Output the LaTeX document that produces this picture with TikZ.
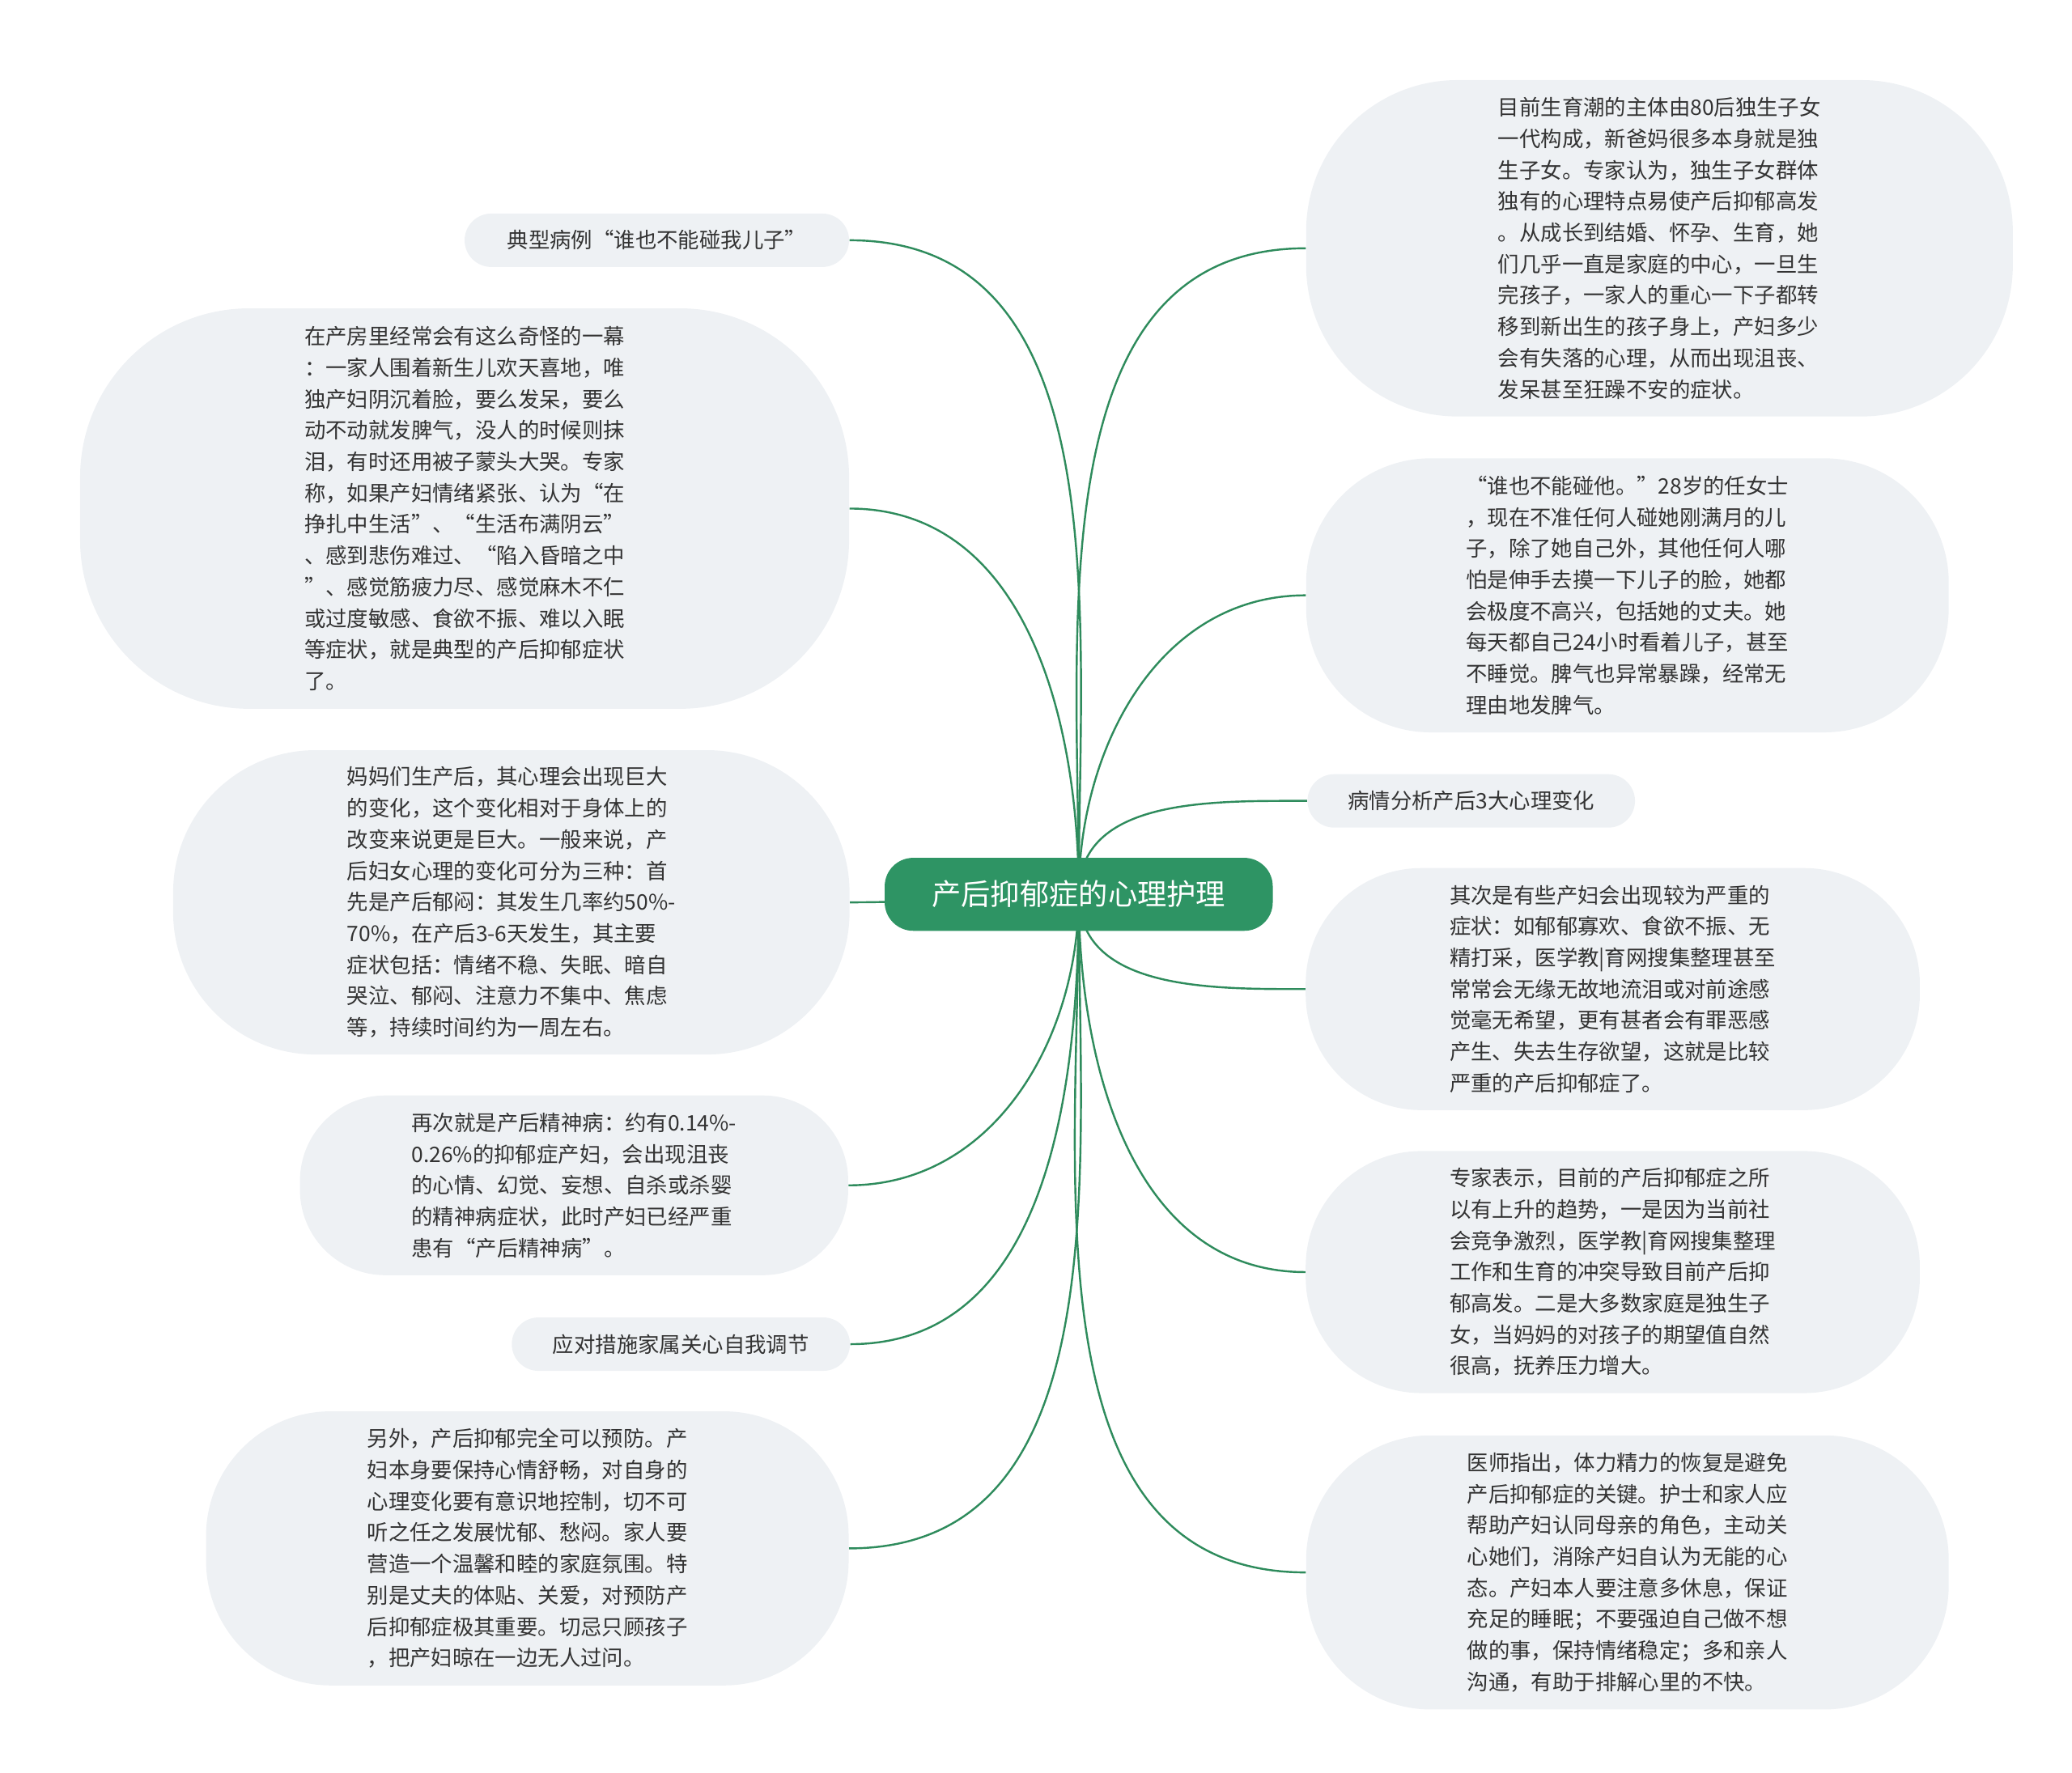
\documentclass[tikz,border=0pt]{standalone}
\usepackage{fontspec}
\setmainfont{Noto Sans CJK SC}
\usetikzlibrary{backgrounds}
\definecolor{leaffill}{HTML}{EEF1F4}
\definecolor{linkgreen}{HTML}{2E8B5C}
\definecolor{rootgreen}{HTML}{2E9464}
\tikzset{>=latex}
\begin{document}
\begin{tikzpicture}[x=0.75pt,y=-0.75pt,
    leaf/.style={fill=leaffill,rounded corners=70pt,align=left,font=\fontsize{12}{17.6}\selectfont,text=black!80,inner sep=0},
    pill/.style={fill=leaffill,rounded corners=15pt,font=\fontsize{12}{17.6}\selectfont,text=black!80,minimum height=30pt,inner sep=0},
    root/.style={fill=rootgreen,rounded corners=16pt,text=white,font=\fontsize{16.5}{20}\selectfont,minimum width=218pt,minimum height=41pt},
    link/.style={draw=linkgreen,line width=1.1pt}
  ]
\useasboundingbox (0,0) rectangle (1552,1328);
\node[root] (root) at (808,670) {产后抑郁症的心理护理};
% right side
\node[leaf,minimum width=397pt,minimum height=189pt,rounded corners=85pt] (r1) at (1243,186) {目前生育潮的主体由80后独生子女\\一代构成，新爸妈很多本身就是独\\生子女。专家认为，独生子女群体\\独有的心理特点易使产后抑郁高发\\。从成长到结婚、怀孕、生育，她\\们几乎一直是家庭的中心，一旦生\\完孩子，一家人的重心一下子都转\\移到新出生的孩子身上，产妇多少\\会有失落的心理，从而出现沮丧、\\发呆甚至狂躁不安的症状。};
\node[leaf,minimum width=361pt,minimum height=154pt] (r2) at (1219,446) {“谁也不能碰他。”28岁的任女士\\，现在不准任何人碰她刚满月的儿\\子，除了她自己外，其他任何人哪\\怕是伸手去摸一下儿子的脸，她都\\会极度不高兴，包括她的丈夫。她\\每天都自己24小时看着儿子，甚至\\不睡觉。脾气也异常暴躁，经常无\\理由地发脾气。};
\node[pill,minimum width=184pt] (r3) at (1102,600) {病情分析产后3大心理变化};
\node[leaf,minimum width=345pt,minimum height=136pt,rounded corners=65pt] (r4) at (1208,741) {其次是有些产妇会出现较为严重的\\症状：如郁郁寡欢、食欲不振、无\\精打采，医学教|育网搜集整理甚至\\常常会无缘无故地流泪或对前途感\\觉毫无希望，更有甚者会有罪恶感\\产生、失去生存欲望，这就是比较\\严重的产后抑郁症了。};
\node[leaf,minimum width=345pt,minimum height=136pt,rounded corners=65pt] (r5) at (1208,953) {专家表示，目前的产后抑郁症之所\\以有上升的趋势，一是因为当前社\\会竞争激烈，医学教|育网搜集整理\\工作和生育的冲突导致目前产后抑\\郁高发。二是大多数家庭是独生子\\女，当妈妈的对孩子的期望值自然\\很高，抚养压力增大。};
\node[leaf,minimum width=361pt,minimum height=154pt] (r6) at (1219,1178) {医师指出，体力精力的恢复是避免\\产后抑郁症的关键。护士和家人应\\帮助产妇认同母亲的角色，主动关\\心她们，消除产妇自认为无能的心\\态。产妇本人要注意多休息，保证\\充足的睡眠；不要强迫自己做不想\\做的事，保持情绪稳定；多和亲人\\沟通，有助于排解心里的不快。};
% left side
\node[pill,minimum width=216pt] (l1) at (492,180) {典型病例“谁也不能碰我儿子”};
\node[leaf,minimum width=432pt,minimum height=225pt,rounded corners=95pt] (l2) at (348,381) {在产房里经常会有这么奇怪的一幕\\：一家人围着新生儿欢天喜地，唯\\独产妇阴沉着脸，要么发呆，要么\\动不动就发脾气，没人的时候则抹\\泪，有时还用被子蒙头大哭。专家\\称，如果产妇情绪紧张、认为“在\\挣扎中生活”、“生活布满阴云”\\、感到悲伤难过、“陷入昏暗之中\\”、感觉筋疲力尽、感觉麻木不仁\\或过度敏感、食欲不振、难以入眠\\等症状，就是典型的产后抑郁症状\\了。};
\node[leaf,minimum width=380pt,minimum height=171pt,rounded corners=80pt] (l3) at (383,676) {妈妈们生产后，其心理会出现巨大\\的变化，这个变化相对于身体上的\\改变来说更是巨大。一般来说，产\\后妇女心理的变化可分为三种：首\\先是产后郁闷：其发生几率约50\%-\\70\%，在产后3-6天发生，其主要\\症状包括：情绪不稳、失眠、暗自\\哭泣、郁闷、注意力不集中、焦虑\\等，持续时间约为一周左右。};
\node[leaf,minimum width=308pt,minimum height=101pt,rounded corners=48pt] (l4) at (430,888) {再次就是产后精神病：约有0.14\%-\\0.26\%的抑郁症产妇，会出现沮丧\\的心情、幻觉、妄想、自杀或杀婴\\的精神病症状，此时产妇已经严重\\患有“产后精神病”。};
\node[pill,minimum width=190pt] (l5) at (510,1007) {应对措施家属关心自我调节};
\node[leaf,minimum width=361pt,minimum height=154pt] (l6) at (395,1160) {另外，产后抑郁完全可以预防。产\\妇本身要保持心情舒畅，对自身的\\心理变化要有意识地控制，切不可\\听之任之发展忧郁、愁闷。家人要\\营造一个温馨和睦的家庭氛围。特\\别是丈夫的体贴、关爱，对预防产\\后抑郁症极其重要。切忌只顾孩子\\，把产妇晾在一边无人过问。};
% links
\begin{scope}[on background layer]
\foreach \n in {r1,r2,r3} \draw[link] (root.center) to[out=90,in=180] (\n.west);
\foreach \n in {r4,r5,r6} \draw[link] (root.center) to[out=-90,in=180] (\n.west);
\foreach \n in {l1,l2} \draw[link] (root.center) to[out=90,in=0] (\n.east);
\draw[link] (root.center) to[out=180,in=0] (l3.east);
\foreach \n in {l4,l5,l6} \draw[link] (root.center) to[out=-90,in=0] (\n.east);
\end{scope}
\end{tikzpicture}
\end{document}
